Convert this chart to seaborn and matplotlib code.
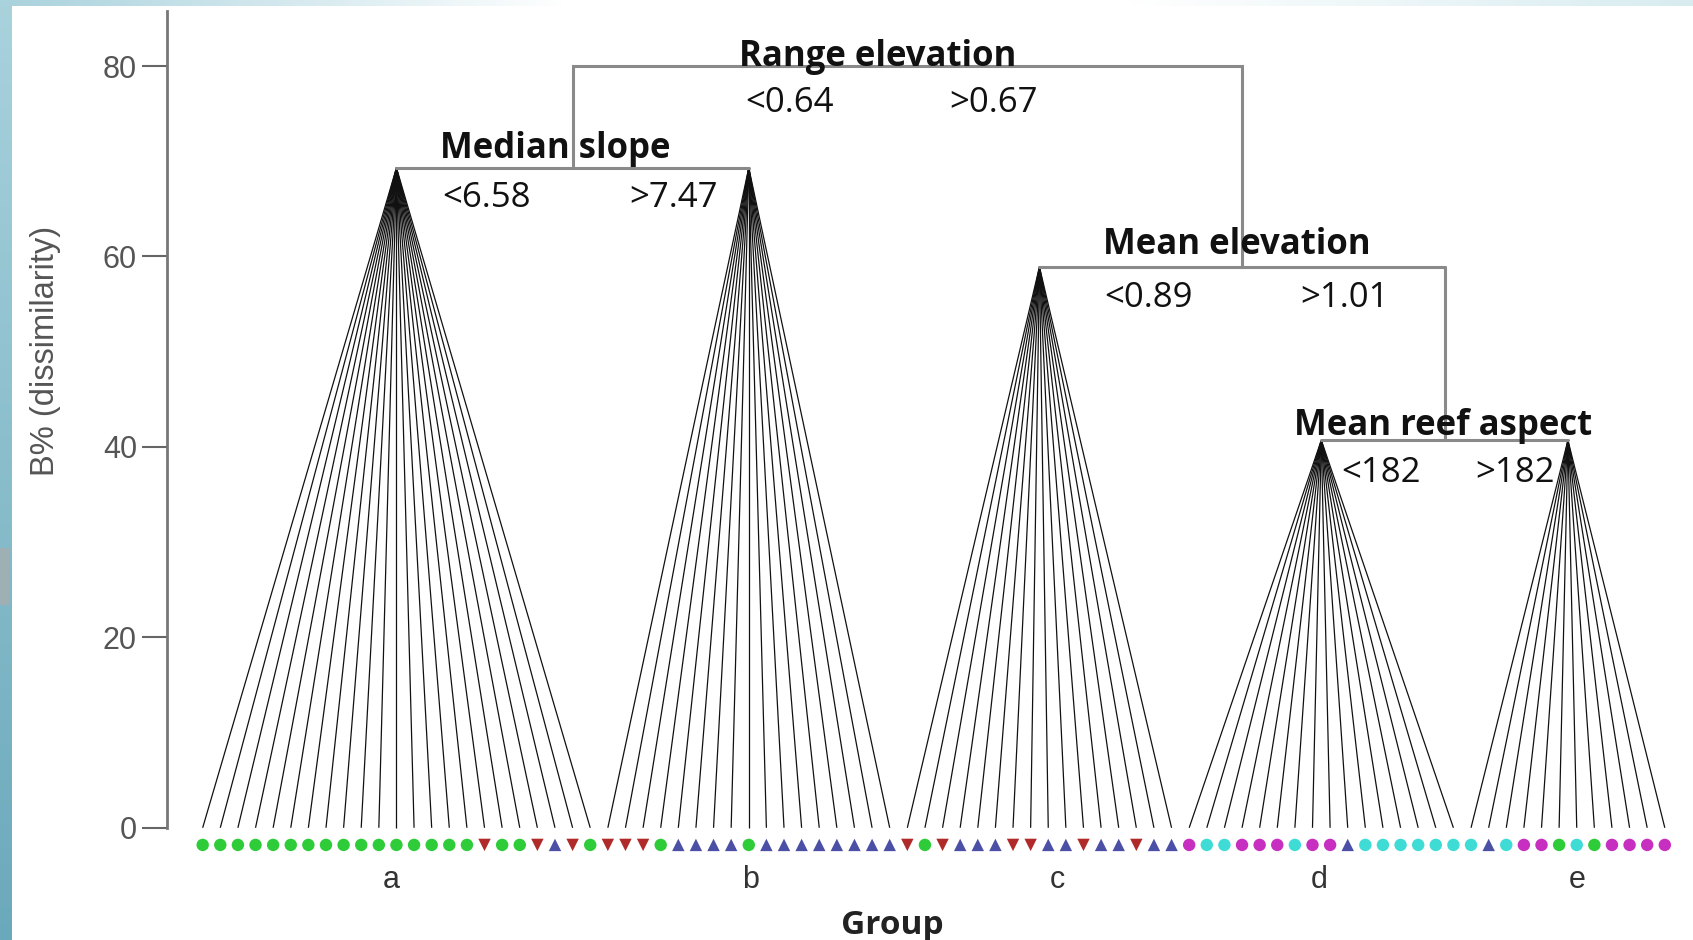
import numpy as np
import pandas as pd
import matplotlib
matplotlib.use("Agg")
import matplotlib.pyplot as plt
import seaborn as sns
from matplotlib.patches import Rectangle

# ---------------- data ----------------
# site classes along the x axis (left to right)
site_class = (
    ["G"] * 16 + ["R", "G", "G", "R", "B", "R", "G"]            # group a (23)
    + ["R", "R", "R", "G", "B", "B", "B", "B", "G", "B", "B", "B", "B", "B", "B", "B", "B"]  # group b (17)
    + ["R", "G", "R", "B", "B", "B", "R", "R", "B", "B", "R", "B", "B", "R", "B", "B"]  # group c (16)
    + ["M", "C", "C", "M", "M", "M", "C", "M", "M", "B", "C", "C", "C", "C", "C", "C"]  # group d (16)
    + ["C", "B", "C", "M", "M", "G", "C", "G", "M", "M", "M", "M"]  # group e (12)
)
group_names = ["a", "b", "c", "d", "e"]
group_sizes = [23, 17, 16, 16, 12]
group_label_pos = [10.7, 31.1, 48.5, 63.4, 78.0]

# tree split heights (B% dissimilarity)
root_height = 80.0          # Range elevation
ab_height = 69.3            # Median slope
cde_height = 58.9           # Mean elevation
de_height = 40.7            # Mean reef aspect

split_titles = ["Range elevation", "Median slope", "Mean elevation", "Mean reef aspect"]
split_left = ["<0.64", "<6.58", "<0.89", "<182"]
split_right = [">0.67", ">7.47", ">1.01", ">182"]

yticks = [0, 20, 40, 60, 80]

# ---------------- figure ----------------
sns.set_theme(style="white")
plt.rcParams["font.family"] = ["Liberation Sans", "DejaVu Sans"]

fig = plt.figure(figsize=(16.93, 9.40), dpi=100)

# slide-like background strips
bg = fig.add_axes([0, 0, 1, 1], zorder=-10)
bg.set_axis_off()
grad = np.linspace(0, 1, 256).reshape(-1, 1)
bg.imshow(grad, extent=[0, 0.0066, 0, 1], cmap=matplotlib.colors.LinearSegmentedColormap.from_list(
    "l", ["#6aa9bb", "#a9d2dd"]), aspect="auto", origin="lower")
bg.imshow(np.linspace(0, 1, 256).reshape(1, -1), extent=[0, 1, 0.994, 1],
          cmap=matplotlib.colors.LinearSegmentedColormap.from_list(
              "t", ["#a9d2dd", "#ffffff", "#ffffff", "#d8ecf0"]), aspect="auto")
bg.add_patch(Rectangle((0, 0.357), 0.005, 0.06, color="#9fb0b5"))
bg.set_xlim(0, 1)
bg.set_ylim(0, 1)

ax = fig.add_axes([0.0989, 0.089, 0.9011, 0.8995])

n = len(site_class)
xs = np.arange(n)

# group boundaries and apex
starts = np.cumsum([0] + group_sizes[:-1])
centers = [s + (k - 1) / 2 for s, k in zip(starts, group_sizes)]
apex_heights = [ab_height, ab_height, cde_height, de_height, de_height]

# fan lines
for s, k, cx, h in zip(starts, group_sizes, centers, apex_heights):
    for i in range(s, s + k):
        ax.plot([cx, xs[i]], [h, 0], color="#111111", lw=0.9, solid_capstyle="butt", zorder=2)

# tree brackets
gray = "#8a8a8a"
ab_mid = (centers[0] + centers[1]) / 2
de_mid = (centers[3] + centers[4]) / 2
cde_mid = (centers[2] + de_mid) / 2
bracket_kw = dict(color=gray, lw=2.2, zorder=3, solid_joinstyle="miter")
ax.plot([centers[0], centers[1]], [ab_height, ab_height], **bracket_kw)
ax.plot([ab_mid, ab_mid, cde_mid, cde_mid], [ab_height, root_height, root_height, cde_height], **bracket_kw)
ax.plot([centers[2], de_mid], [cde_height, cde_height], **bracket_kw)
ax.plot([de_mid, de_mid], [cde_height, de_height], **bracket_kw)
ax.plot([centers[3], centers[4]], [de_height, de_height], **bracket_kw)

# markers
df = pd.DataFrame({"x": xs, "y": -1.8, "cls": site_class})
palette = {"G": "#2fcc3a", "R": "#b02a2a", "B": "#4b4fa6", "M": "#c62fbf", "C": "#3fdcd6"}
markers = {"G": "o", "R": "v", "B": "^", "M": "o", "C": "o"}
sns.scatterplot(data=df, x="x", y="y", hue="cls", style="cls", palette=palette,
                markers=markers, s=80, linewidth=0, legend=False, ax=ax, zorder=4)

# split annotations
ann_font = ["Open Sans", "DejaVu Sans"]
title_pos = [(38.3, 81.0), (20.0, 71.3), (58.7, 61.2), (70.4, 42.2)]
left_pos = [(33.3, 76.1), (16.1, 66.1), (53.7, 55.6), (66.9, 37.3)]
right_pos = [(44.9, 76.1), (26.7, 66.1), (64.8, 55.6), (74.5, 37.3)]
for t, (tx, ty) in zip(split_titles, title_pos):
    ax.text(tx, ty, t, ha="center", va="center", fontsize=25, fontweight="bold",
            family=ann_font, color="#111111", zorder=5)
for t, (tx, ty) in zip(split_left, left_pos):
    ax.text(tx, ty, t, ha="center", va="center", fontsize=25,
            family=ann_font, color="#111111", zorder=5)
for t, (tx, ty) in zip(split_right, right_pos):
    ax.text(tx, ty, t, ha="center", va="center", fontsize=25,
            family=ann_font, color="#111111", zorder=5)

# axes styling
ax.set_xlim(-2.0, 84.6)
ax.set_ylim(-3.0, 85.8)
ax.set_yticks(yticks)
ax.set_yticklabels([str(v) for v in yticks], fontsize=22, color="#555555")
ax.set_xticks(group_label_pos)
ax.set_xticklabels(group_names, fontsize=22, color="#333333")
ax.tick_params(axis="y", direction="out", length=18, width=1.5, color="#666666", pad=4, left=True)
ax.tick_params(axis="x", length=0, pad=6)
for side in ["top", "right", "bottom"]:
    ax.spines[side].set_visible(False)
ax.spines["left"].set_color("#777777")
ax.spines["left"].set_linewidth(2)
ax.spines["left"].set_bounds(0, 85.8)
ax.set_ylabel("B% (dissimilarity)", fontsize=23.5, color="#555555", va="center")
ax.yaxis.set_label_coords(-0.080, 0.598)
ax.set_xlabel("Group", fontsize=24, fontweight="bold", family=ann_font, color="#222222", va="center")
ax.xaxis.set_label_coords(0.475, -0.082)
ax.patch.set_alpha(0)

fig.savefig("out.png", dpi=100)
